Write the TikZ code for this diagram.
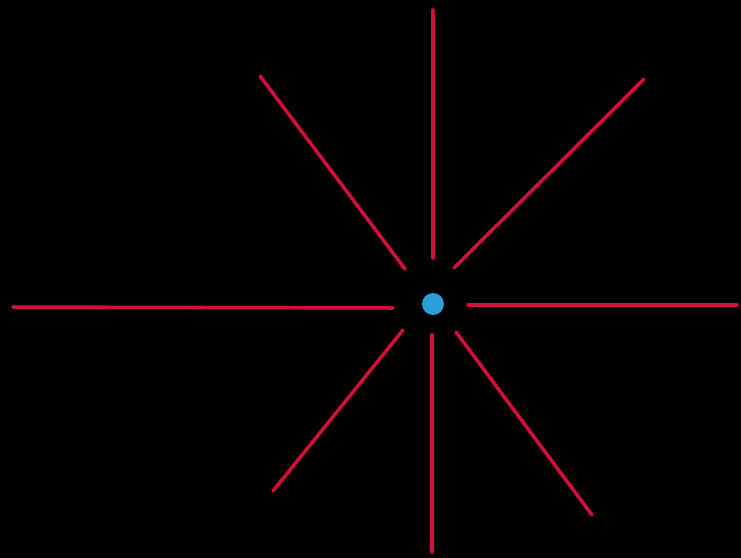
\documentclass[tikz,border=0pt]{standalone}
\usepackage{tikz}
\usepackage{xcolor}
\definecolor{bgblack}{HTML}{000000}
\definecolor{rayred}{HTML}{D3103A}
\definecolor{dotblue}{HTML}{2A9FD8}

\begin{document}
\begin{tikzpicture}[x=0.02cm,y=-0.02cm,
    ray/.style={rayred,line width=2pt,line cap=round}]
        \fill[bgblack] (0,0) rectangle (741,558);
        \node[circle,fill=dotblue,inner sep=0pt,minimum size=0.44cm] (hub) at (433,304) {};
        % inner ends
        \coordinate (nIn) at (433,258);
        \coordinate (neIn) at (454,268);
        \coordinate (eIn) at (468,305);
        \coordinate (seIn) at (456,332);
        \coordinate (sIn) at (432,335);
        \coordinate (swIn) at (403,330);
        \coordinate (wIn) at (393,308);
        \coordinate (nwIn) at (405,269);
        % outer ends
        \coordinate (nOut) at (433,10);
        \coordinate (neOut) at (644,79);
        \coordinate (eOut) at (737,305);
        \coordinate (seOut) at (592,515);
        \coordinate (sOut) at (432,552);
        \coordinate (swOut) at (273,491);
        \coordinate (wOut) at (13,307);
        \coordinate (nwOut) at (260,76);
        \foreach \d in {n,ne,e,se,s,sw,w,nw}
          \draw[ray] (\d In) -- (\d Out);
      \end{tikzpicture}
\end{document}
